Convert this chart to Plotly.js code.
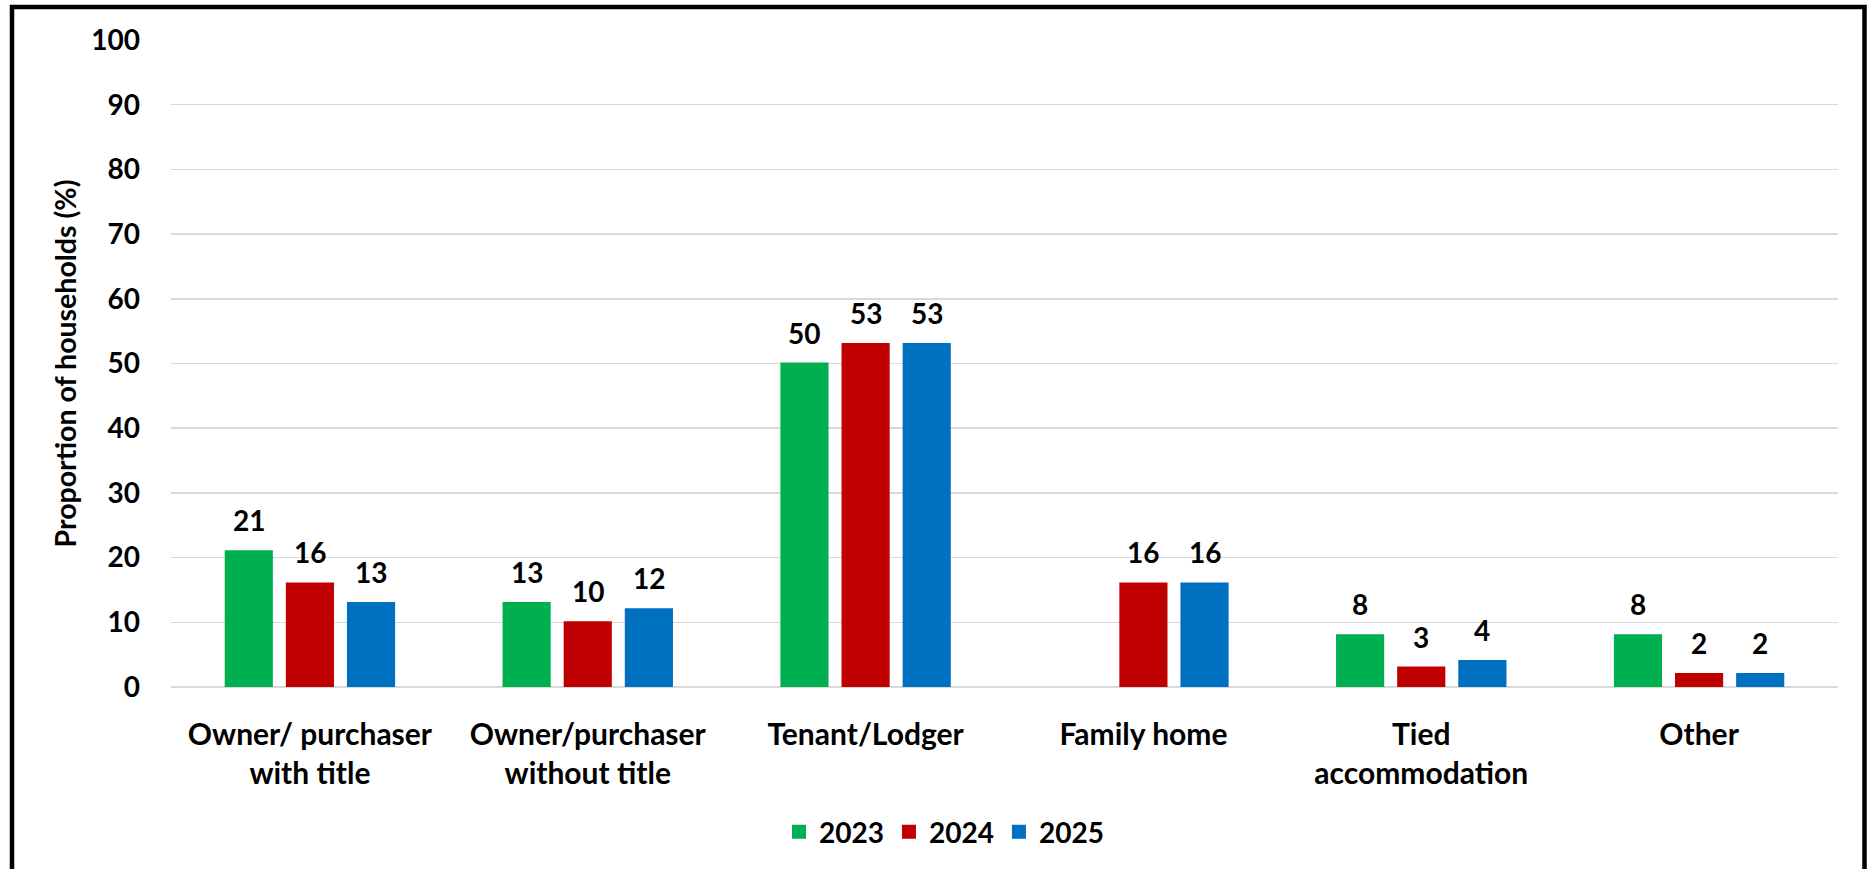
<!DOCTYPE html>
<html>
<head>
<meta charset="utf-8">
<script src="https://cdn.plot.ly/plotly-3.0.1.min.js"></script>
<style>
html,body{margin:0;padding:0;background:#fff;}
#chart{width:1871px;height:869px;}
</style>
</head>
<body>
<div id="chart"></div>
<script>
// ---- data ----
const categories = [
  "Owner/ purchaser<br>with title",
  "Owner/purchaser<br>without title",
  "Tenant/Lodger",
  "Family home",
  "Tied<br>accommodation",
  "Other"
];
const seriesNames = ["2023", "2024", "2025"];
const values2023 = [21, 13, 50, null, 8, 8];
const values2024 = [16, 10, 53, 16, 3, 2];
const values2025 = [13, 12, 53, 16, 4, 2];
const seriesColors = ["#00B050", "#C00000", "#0070C0"];
const yTickVals = [0, 10, 20, 30, 40, 50, 60, 70, 80, 90, 100];

// ---- layout geometry ----
const W = 1871, H = 869;
const M = {l: 171, r: 33, t: 40, b: 182};
const PW = W - M.l - M.r, PH = H - M.t - M.b;
const px = x => (x - M.l) / PW;
const py = y => (H - M.b - y) / PH;
const FONT = 'Lato, "Open Sans", sans-serif';
const bargap = 0.34, bargroupgap = 0.245;
const slot = (1 - bargap) / seriesNames.length;

const allValues = [values2023, values2024, values2025];

const traces = allValues.map((vals, k) => ({
  type: 'bar',
  name: seriesNames[k],
  x: categories,
  y: vals,
  marker: {color: seriesColors[k], line: {color: seriesColors[k], width: 2}},
  hoverinfo: 'x+y+name'
}));

const annotations = [];
allValues.forEach((vals, k) => {
  vals.forEach((v, i) => {
    if (v === null || v === undefined) return;
    annotations.push({
      x: i + (k - (seriesNames.length - 1) / 2) * slot,
      y: v,
      xref: 'x', yref: 'y',
      text: String(v),
      showarrow: false,
      yanchor: 'bottom',
      xanchor: 'center',
      yshift: 12,
      font: {family: FONT, size: 28, color: '#000', weight: 'bold'}
    });
  });
});

const layout = {
  width: W, height: H,
  margin: M,
  paper_bgcolor: '#fff',
  plot_bgcolor: '#fff',
  font: {family: FONT, size: 28, color: '#000', weight: 'bold'},
  barmode: 'group',
  bargap: bargap,
  bargroupgap: bargroupgap,
  showlegend: true,
  legend: {
    orientation: 'h',
    x: px(944), xanchor: 'center',
    y: py(832), yanchor: 'middle',
    font: {family: FONT, size: 28, color: '#000', weight: 'bold'},
    traceorder: 'normal'
  },
  xaxis: {
    type: 'category',
    tickfont: {family: FONT, size: 30, color: '#000', weight: 'bold'},
    ticks: 'outside', ticklen: 21, tickcolor: 'rgba(0,0,0,0)',
    showline: false, showgrid: false, zeroline: false,
    fixedrange: true
  },
  yaxis: {
    range: [0, 100],
    tickvals: yTickVals,
    ticktext: yTickVals.map(String),
    tickfont: {family: FONT, size: 28, color: '#000', weight: 'bold'},
    ticks: '', ticklabelstandoff: 30,
    showgrid: true, gridcolor: '#d9d9d9', gridwidth: 1.5,
    zeroline: true, zerolinecolor: '#d9d9d9', zerolinewidth: 1.5,
    showline: false,
    title: {text: 'Proportion of households (%)', font: {family: FONT, size: 28.5, color: '#000', weight: 'bold'}, standoff: 6},
    fixedrange: true
  },
  annotations: annotations,
  shapes: [{
    type: 'rect', xref: 'paper', yref: 'paper',
    x0: px(12), x1: px(1864.5), y0: py(920), y1: py(7),
    line: {color: '#000', width: 4.5}, fillcolor: 'rgba(0,0,0,0)', layer: 'above'
  }]
};

Plotly.newPlot('chart', traces, layout, {displayModeBar: false, staticPlot: true});
</script>
</body>
</html>
